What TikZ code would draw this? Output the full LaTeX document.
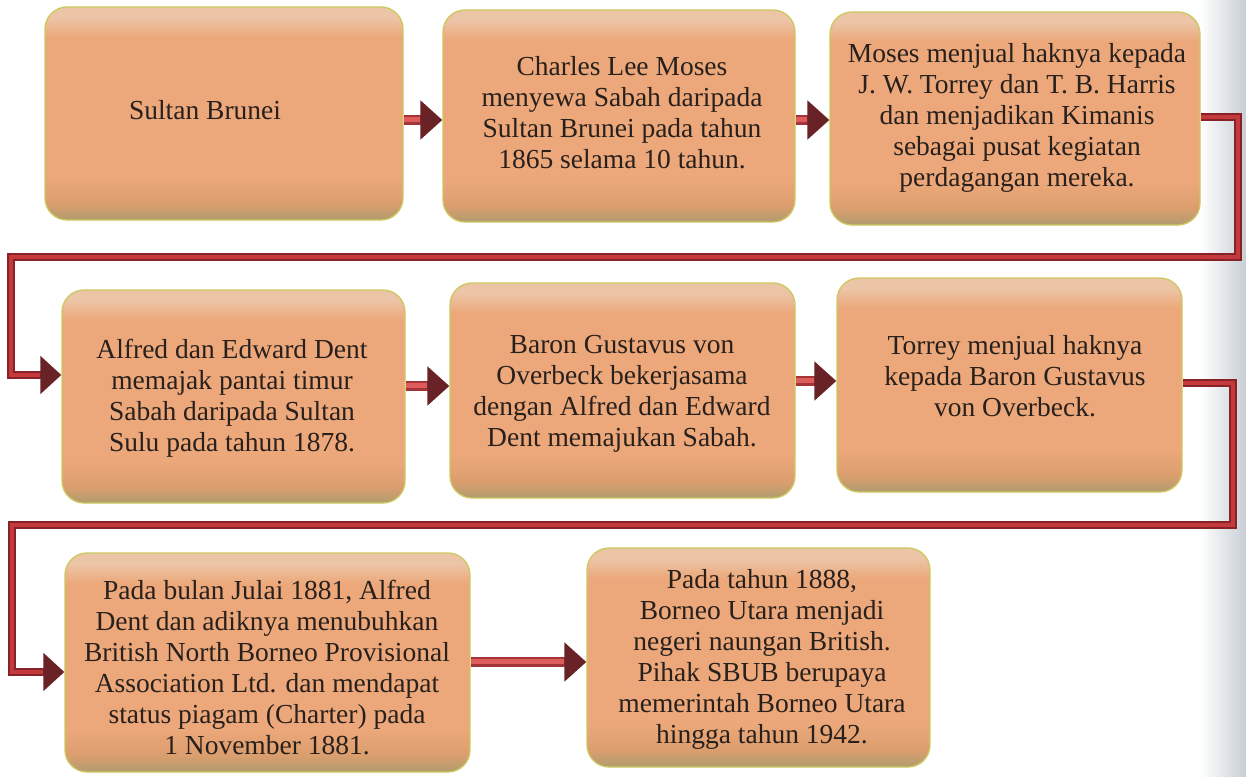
\documentclass[tikz,border=0pt]{standalone}
\usepackage{fontspec}
\setmainfont{Liberation Serif}
\usetikzlibrary{arrows.meta}
\definecolor{bxtop}{RGB}{236,196,166}
\definecolor{bxmain}{RGB}{236,168,122}
\definecolor{bxlow}{RGB}{220,158,110}
\definecolor{bxbot}{RGB}{176,156,110}
\definecolor{boxedge}{RGB}{205,200,95}
\definecolor{txtcol}{RGB}{40,32,28}
\definecolor{lndark}{RGB}{135,35,40}
\definecolor{lnred}{RGB}{196,58,60}
\definecolor{arrlight}{RGB}{222,92,92}
\definecolor{arrdark}{RGB}{165,52,56}
\definecolor{headcol}{RGB}{105,34,38}
\definecolor{pagegray}{RGB}{200,206,212}
\pgfdeclareverticalshading{boxshade}{100bp}{color(0bp)=(bxbot); color(25bp)=(bxbot); color(29bp)=(bxlow); color(35bp)=(bxmain); color(68bp)=(bxmain); color(72.5bp)=(bxtop); color(75bp)=(bxtop); color(100bp)=(bxtop)}
\tikzset{
  box/.style={rectangle, rounded corners=22pt, draw=boxedge, line width=1.3pt, shading=boxshade, inner sep=0pt},
  txt/.style={font=\fontsize{27.5}{31}\selectfont, text=txtcol, align=center, inner sep=0pt},
  loopbase/.style={draw=lndark, line width=8pt, line join=miter, -{Triangle[length=21pt,width=37pt,color=headcol]}},
  looptop/.style={draw=lnred, line width=4pt, line join=miter, shorten >=21pt},
  arrbase/.style={draw=arrdark, line width=10pt, -{Triangle[length=22pt,width=38pt,color=headcol]}},
  arrtop/.style={draw=arrlight, line width=5pt, shorten >=22pt}
}
\begin{document}
\begin{tikzpicture}[x=1pt,y=-1pt]
\useasboundingbox (0,0) rectangle (1246,776);
\fill[white] (0,0) rectangle (1246,776);
\shade[left color=white, right color=pagegray] (1200,0) rectangle (1246,776);

% boxes
\node[box, minimum width=358pt, minimum height=213pt] (b1) at (224,113.5) {};
\node[box, minimum width=352pt, minimum height=212pt] (b2) at (619,116) {};
\node[box, minimum width=370pt, minimum height=213pt] (b3) at (1015,118.5) {};
\node[box, minimum width=343pt, minimum height=213pt] (b4) at (233.5,396.5) {};
\node[box, minimum width=345pt, minimum height=215pt] (b5) at (622.5,390.5) {};
\node[box, minimum width=345pt, minimum height=214pt] (b6) at (1009.5,385) {};
\node[box, minimum width=405pt, minimum height=219pt] (b7) at (267.5,662.5) {};
\node[box, minimum width=343pt, minimum height=219pt] (b8) at (758.5,657.5) {};

% texts
\node[txt] (t1) at (205,110) {Sultan Brunei};
\node[txt] (t2) at (622,112.5) {Charles Lee Moses\\menyewa Sabah daripada\\Sultan Brunei pada tahun\\1865 selama 10 tahun.};
\node[txt] (t3) at (1017,117.5) {Moses menjual haknya kepada\\J. W. Torrey dan T. B. Harris\\dan menjadikan Kimanis\\sebagai pusat kegiatan\\perdagangan mereka.};
\node[txt] (t4) at (232,398) {Alfred dan Edward Dent\\memajak pantai timur\\Sabah daripada Sultan\\Sulu pada tahun 1878.};
\node[txt] (t5) at (622,394) {Baron Gustavus von\\Overbeck bekerjasama\\dengan Alfred dan Edward\\Dent memajukan Sabah.};
\node[txt] (t6) at (1015,376.5) {Torrey menjual haknya\\kepada Baron Gustavus\\von Overbeck.};
\node[txt] (t7) at (267,668) {Pada bulan Julai 1881, Alfred\\Dent dan adiknya menubuhkan\\British North Borneo Provisional\\Association Ltd. dan mendapat\\status piagam (Charter) pada\\1 November 1881.};
\node[txt] (t8) at (762,659) {Pada tahun 1888,\\Borneo Utara menjadi\\negeri naungan British.\\Pihak SBUB berupaya\\memerintah Borneo Utara\\hingga tahun 1942.};

% helper coordinates
\coordinate (y12) at (0,120);
\coordinate (y23) at (0,120);
\coordinate (y3) at (0,117);
\coordinate (y45) at (0,386);
\coordinate (y56) at (0,381);
\coordinate (y6) at (0,383);
\coordinate (y78) at (0,662);
\coordinate (r1) at (1238,257);
\coordinate (l1) at (11,257);
\coordinate (l1b) at (11,375);
\coordinate (r2) at (1233,525);
\coordinate (l2) at (12,525);
\coordinate (l2b) at (12,672);

% short arrows
\foreach \a/\b/\y in {b1/b2/y12, b2/b3/y23, b4/b5/y45, b5/b6/y56, b7/b8/y78}{
  \draw[arrbase] (\a.east |- \y) -- (\b.west |- \y);
  \draw[arrtop] ([yshift=1pt]\a.east |- \y) -- ([yshift=1pt]\b.west |- \y);
}

% long connectors
\draw[loopbase] (b3.east |- y3) -| (r1) -- (l1) -- (l1b) -- (b4.west |- l1b);
\draw[looptop] (b3.east |- y3) -| (r1) -- (l1) -- (l1b) -- (b4.west |- l1b);
\draw[loopbase] (b6.east |- y6) -| (r2) -- (l2) -- (l2b) -- (b7.west |- l2b);
\draw[looptop] (b6.east |- y6) -| (r2) -- (l2) -- (l2b) -- (b7.west |- l2b);
\end{tikzpicture}
\end{document}
